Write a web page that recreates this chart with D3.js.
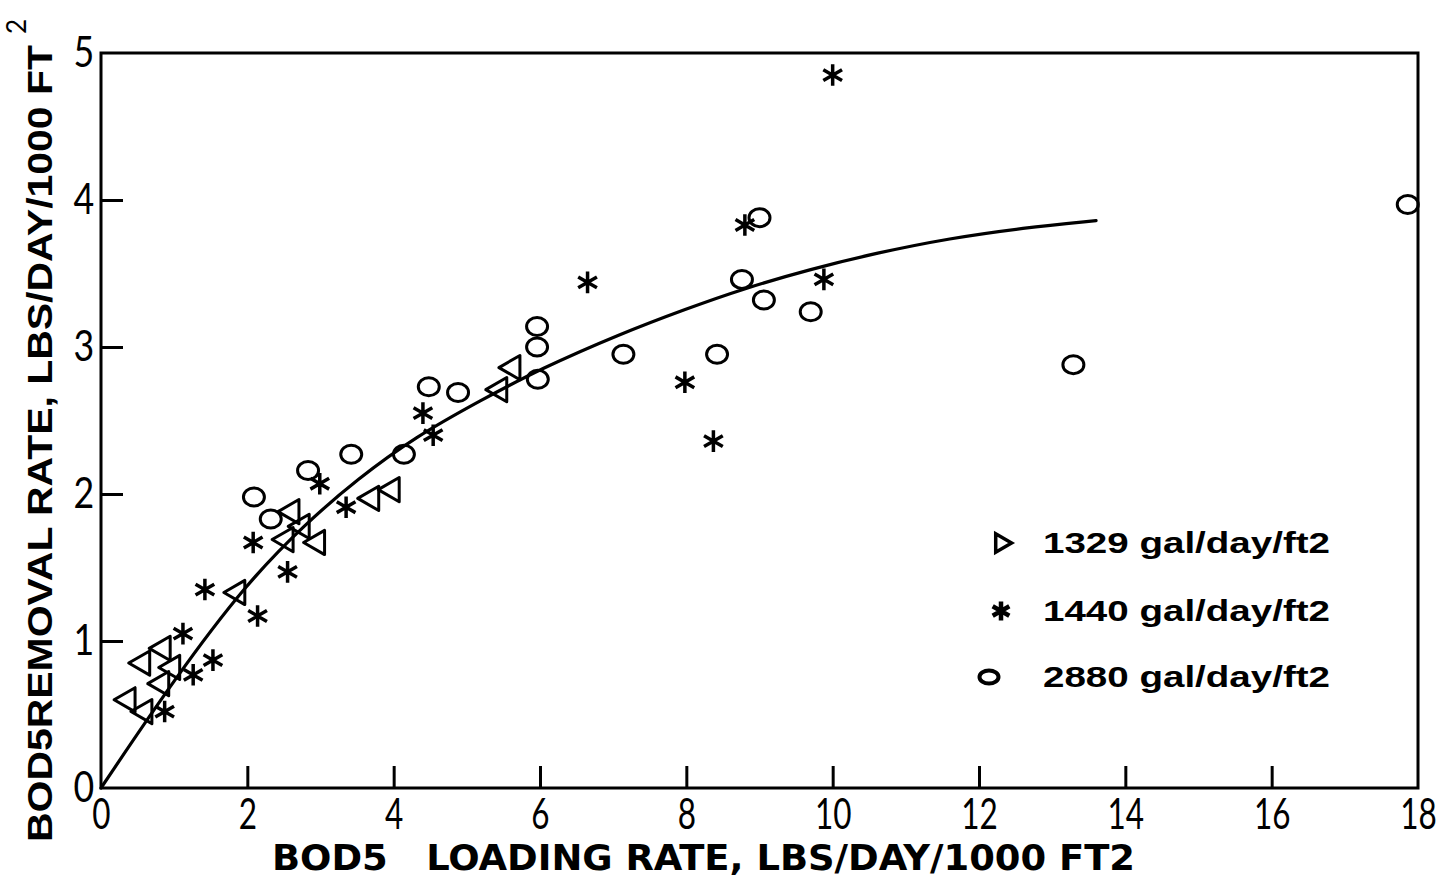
<!DOCTYPE html>
<html>
<head>
<meta charset="utf-8">
<script src="https://cdn.jsdelivr.net/npm/d3@7"></script>
<style>
  body { margin: 0; background: #fff; }
  svg { display: block; }
</style>
</head>
<body>
<svg width="1437" height="882"></svg>
<script>
// ---- data ----
var xTicks = [0, 2, 4, 6, 8, 10, 12, 14, 16, 18];
var yTicks = [0, 1, 2, 3, 4, 5];

// 1329 gal/day/ft2
var triX = [0.37, 0.60, 0.57, 0.83, 0.85, 0.98, 1.87, 2.53, 2.61, 2.75, 2.96, 3.70, 3.98, 5.45, 5.63];
var triY = [0.60, 0.52, 0.85, 0.71, 0.95, 0.82, 1.33, 1.69, 1.88, 1.78, 1.67, 1.97, 2.03, 2.71, 2.86];

// 1440 gal/day/ft2
var starX = [0.87, 1.26, 1.53, 1.12, 1.42, 2.14, 2.55, 2.08, 2.99, 3.35, 4.40, 4.54, 6.65, 7.98, 8.37, 8.80, 9.88, 10.0];
var starY = [0.52, 0.77, 0.87, 1.05, 1.35, 1.17, 1.47, 1.67, 2.07, 1.91, 2.55, 2.40, 3.44, 2.76, 2.36, 3.83, 3.46, 4.85];

// 2880 gal/day/ft2
var circX = [2.09, 2.32, 2.83, 3.42, 4.14, 4.48, 4.88, 5.96, 5.96, 5.97, 7.14, 8.42, 8.76, 9.06, 9.70, 9.00, 13.29, 17.86];
var circY = [1.98, 1.83, 2.16, 2.27, 2.27, 2.73, 2.69, 3.14, 3.00, 2.78, 2.95, 2.95, 3.46, 3.32, 3.24, 3.88, 2.88, 3.97];

// hand-fitted curve
var curveX = [0, 1, 2, 2.8, 3.5, 4.3, 5.2, 6, 7.1, 8, 8.8, 9.7, 10.6, 11.6, 12.6, 13.6];
var curveY = [0, 0.74, 1.4, 1.8, 2.1, 2.39, 2.64, 2.85, 3.09, 3.26, 3.4, 3.53, 3.64, 3.74, 3.81, 3.86];

var legendLabels = ["1329 gal/day/ft2", "1440 gal/day/ft2", "2880 gal/day/ft2"];

var svg = d3.select("svg"),
    margin = {top: 53, right: 19, bottom: 94, left: 101},
    width = +svg.attr("width") - margin.left - margin.right,
    height = +svg.attr("height") - margin.top - margin.bottom,
    g = svg.append("g").attr("transform", "translate(" + margin.left + "," + margin.top + ")");

var x = d3.scaleLinear().domain([0, 18]).range([0, width]);
var y = d3.scaleLinear().domain([0, 5]).range([height, 0]);

var zip = function(xs, ys) { return xs.map(function(v, i) { return [v, ys[i]]; }); };

// frame
g.append("rect")
  .attr("width", width)
  .attr("height", height)
  .attr("fill", "none")
  .attr("stroke", "#000")
  .attr("stroke-width", 3);

var tickFont = "Lato, 'DejaVu Sans', sans-serif";

var xAxis = g.append("g")
  .attr("transform", "translate(0," + height + ")")
  .call(d3.axisBottom(x).tickValues(xTicks).tickSize(-22).tickPadding(9).tickFormat(d3.format("d")));

var yAxis = g.append("g")
  .call(d3.axisLeft(y).tickValues(yTicks).tickSize(-22).tickPadding(8).tickFormat(d3.format("d")));

[xAxis, yAxis].forEach(function(ax) {
  ax.select(".domain").remove();
  ax.selectAll(".tick line").attr("stroke", "#000").attr("stroke-width", 3);
  ax.selectAll(".tick text")
    .attr("fill", "#000")
    .style("font-family", tickFont)
    .style("font-weight", 400)
    .style("font-size", "42px");
});
xAxis.selectAll(".tick text").attr("transform", "scale(0.75,1)").attr("dy", "0.76em");
yAxis.selectAll(".tick text").attr("transform", "scale(0.85,1)");
xAxis.selectAll(".tick").filter(function(d) { return d === 0 || d === 18; }).select("line").remove();
yAxis.selectAll(".tick").filter(function(d) { return d === 0 || d === 5; }).select("line").remove();

// fitted curve
var line = d3.line()
  .x(function(d) { return x(d[0]); })
  .y(function(d) { return y(d[1]); })
  .curve(d3.curveBasis);

g.append("path")
  .datum(zip(curveX, curveY))
  .attr("fill", "none")
  .attr("stroke", "#000")
  .attr("stroke-width", 3.2)
  .attr("stroke-linecap", "round")
  .attr("d", line);

// markers
var triSym = d3.symbol().type(d3.symbolTriangle2).size(420);
var starSym = d3.symbol().type(d3.symbolAsterisk).size(330);

g.selectAll(".tri")
  .data(zip(triX, triY))
  .join("path")
  .attr("class", "tri")
  .attr("d", triSym)
  .attr("transform", function(d) { return "translate(" + x(d[0]) + "," + y(d[1]) + ") rotate(-90)"; })
  .attr("fill", "none")
  .attr("stroke", "#000")
  .attr("stroke-width", 3)
  .attr("stroke-linejoin", "round");

g.selectAll(".star")
  .data(zip(starX, starY))
  .join("path")
  .attr("class", "star")
  .attr("d", starSym)
  .attr("transform", function(d) { return "translate(" + x(d[0]) + "," + y(d[1]) + ")"; })
  .attr("fill", "none")
  .attr("stroke", "#000")
  .attr("stroke-width", 3.5);

g.selectAll(".circ")
  .data(zip(circX, circY))
  .join("ellipse")
  .attr("class", "circ")
  .attr("cx", function(d) { return x(d[0]); })
  .attr("cy", function(d) { return y(d[1]); })
  .attr("rx", 10.5)
  .attr("ry", 9)
  .attr("fill", "none")
  .attr("stroke", "#000")
  .attr("stroke-width", 3);

// legend
var legend = svg.append("g").attr("transform", "translate(1043,0)");
var rowY = [543, 611, 677];

legend.selectAll("text")
  .data(legendLabels)
  .join("text")
  .attr("x", 0)
  .attr("y", function(d, i) { return rowY[i] + 10; })
  .attr("textLength", 287)
  .attr("lengthAdjust", "spacingAndGlyphs")
  .style("font-family", "'Liberation Sans', Arial, sans-serif")
  .style("font-weight", "bold")
  .style("font-size", "29px")
  .text(function(d) { return d; });

legend.append("path")
  .attr("d", d3.symbol().type(d3.symbolTriangle2).size(240))
  .attr("transform", "translate(-42," + rowY[0] + ") rotate(90)")
  .attr("fill", "none").attr("stroke", "#000").attr("stroke-width", 3.5);
legend.append("path")
  .attr("d", d3.symbol().type(d3.symbolAsterisk).size(260))
  .attr("transform", "translate(-42," + rowY[1] + ")")
  .attr("fill", "none").attr("stroke", "#000").attr("stroke-width", 4.5);
legend.append("ellipse")
  .attr("cx", -54).attr("cy", rowY[2])
  .attr("rx", 9.5).attr("ry", 6.5)
  .attr("fill", "none").attr("stroke", "#000").attr("stroke-width", 4);

// axis titles
svg.append("text")
  .attr("x", 272)
  .attr("y", 870)
  .attr("textLength", 863)
  .attr("lengthAdjust", "spacingAndGlyphs")
  .style("font-family", "'Liberation Sans Narrow', 'DejaVu Sans Condensed', Arial, sans-serif")
  .style("font-weight", "bold")
  .style("font-size", "35px")
  .style("white-space", "pre")
  .text("BOD5   LOADING RATE, LBS/DAY/1000 FT2");

var yTitle = svg.append("g").attr("transform", "translate(52,842) rotate(-90)");
yTitle.append("text")
  .attr("x", 0)
  .attr("y", 0)
  .attr("textLength", 797)
  .attr("lengthAdjust", "spacingAndGlyphs")
  .style("font-family", "'Liberation Sans', Arial, sans-serif")
  .style("font-weight", "bold")
  .style("font-size", "35px")
  .text("BOD5REMOVAL RATE, LBS/DAY/1000 FT");
yTitle.append("text")
  .attr("x", 808)
  .attr("y", -26)
  .style("font-family", tickFont)
  .style("font-weight", 400)
  .style("font-size", "26px")
  .text("2");
</script>
</body>
</html>
